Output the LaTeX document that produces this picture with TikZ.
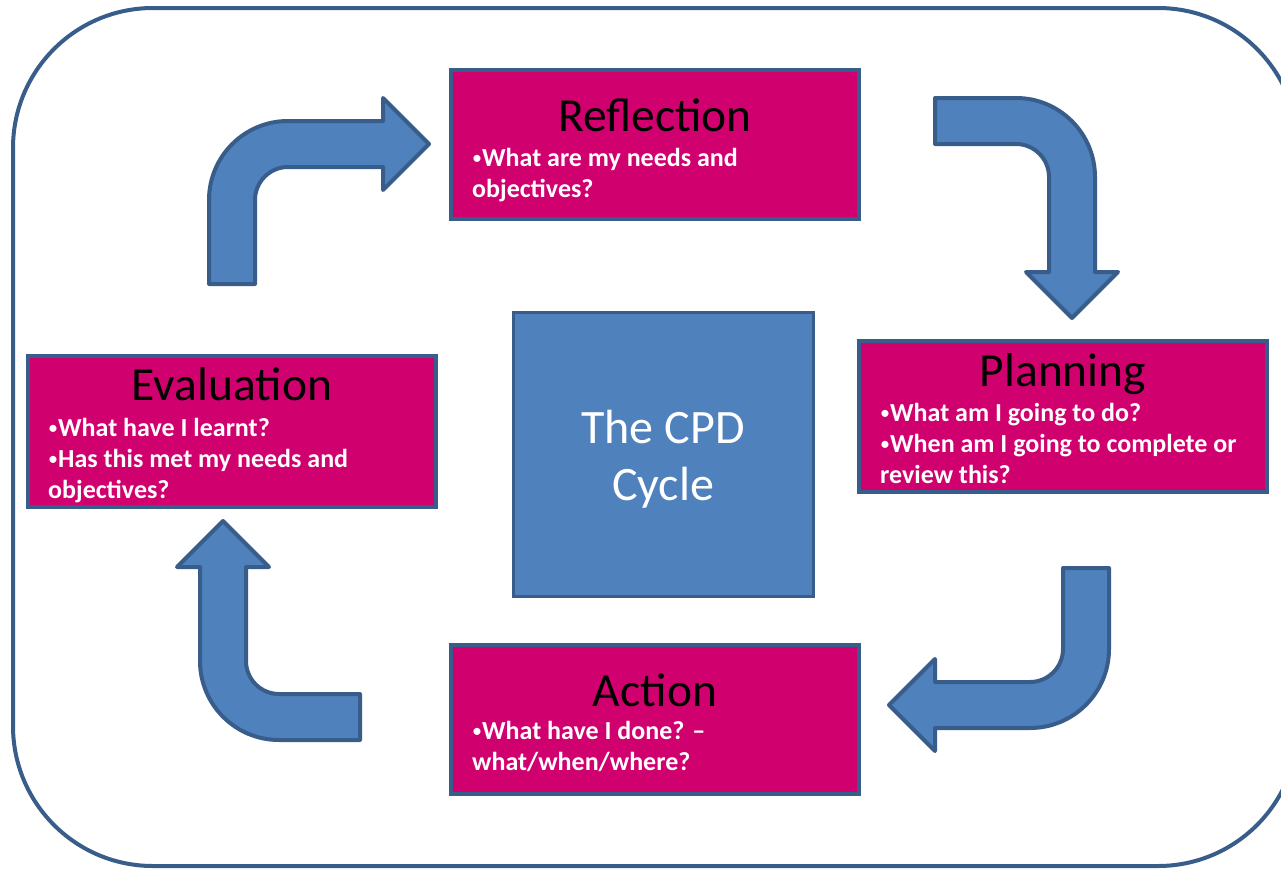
\documentclass[tikz,border=0pt]{standalone}
\usepackage{fontspec}
\setmainfont{Carlito}
\definecolor{magbox}{RGB}{208,0,111}
\definecolor{bluefill}{RGB}{79,129,189}
\definecolor{blueedge}{RGB}{56,93,138}
\newcommand\smallbul{{\normalfont\fontsize{20}{31}\selectfont\raisebox{1.5pt}{•}}}
\begin{document}
\begin{tikzpicture}[x=1pt,y=-1pt,
  stagebox/.style={draw=blueedge, fill=magbox, line width=4pt, inner sep=0pt, minimum width=408pt},
  centrebox/.style={draw=blueedge, fill=bluefill, line width=3pt, inner sep=0pt},
  blockarrow/.style={draw=blueedge, fill=bluefill, line width=4pt, line join=round},
  stagetitle/.style={font=\fontsize{47.5}{54}\selectfont, text=black, inner sep=0pt, anchor=base},
  stagetext/.style={font=\bfseries\fontsize{26}{31}\selectfont, text=white, inner sep=0pt, align=left, anchor=base west},
  frame/.style={draw=blueedge, line width=4pt, rounded corners=140pt}]
\useasboundingbox (0,0) rectangle (1281,870);
% outer frame
\draw[frame] (13,8) rectangle (1298,866);
% stage boxes
\node[stagebox, minimum height=149pt] (refl) at (655,144.5) {};
\node[stagebox, minimum height=151pt] (plan) at (1063,416.5) {};
\node[stagebox, minimum height=149pt] (act) at (655,719.5) {};
\node[stagebox, minimum height=151pt] (eval) at (232,431.5) {};
\node[centrebox, minimum width=300pt, minimum height=284pt] (cpd) at (663,454) {};
% titles
\node[stagetitle] (reflT) at (655,131) {Reflection};
\node[stagetitle] (planT) at (1063,386) {Planning};
\node[stagetitle] (actT) at (655,706) {Action};
\node[stagetitle] (evalT) at (232,400) {Evaluation};
% bullet texts (base anchor = last line's baseline)
\node[stagetext] (reflB) at (472,197) {\smallbul What are my needs and\\objectives?};
\node[stagetext] (planB) at (880,483) {\smallbul What am I going to do?\\\smallbul When am I going to complete or\\review this?};
\node[stagetext] (actB) at (472,770) {\smallbul What have I done? –\\what/when/where?};
\node[stagetext] (evalB) at (48,498) {\smallbul What have I learnt?\\\smallbul Has this met my needs and\\objectives?};
% centre text
\node[font=\fontsize{48}{57}\selectfont, text=white, align=center, inner sep=0pt, anchor=base] (cpdT) at (663,500) {The CPD\\Cycle};
% block arrows
\draw[blockarrow] (209,284) -- (209,200) arc[start angle=180, end angle=270, radius=79]
  -- (383,121) -- (383,98) -- (429,144) -- (383,190) -- (383,167) -- (288,167)
  arc[start angle=270, end angle=180, radius=33] -- (255,284) -- cycle;
\draw[blockarrow] (935,98) -- (1016,98) arc[start angle=270, end angle=360, radius=79]
  -- (1095,272) -- (1118,272) -- (1072,318) -- (1026,272) -- (1049,272) -- (1049,177)
  arc[start angle=0, end angle=-90, radius=33] -- (935,144) -- cycle;
\draw[blockarrow] (1063,568) -- (1109,568) -- (1109,649) arc[start angle=0, end angle=90, radius=79]
  -- (935,728) -- (935,751) -- (889,705) -- (935,659) -- (935,682) -- (1030,682)
  arc[start angle=90, end angle=0, radius=33] -- cycle;
\draw[blockarrow] (360,740) -- (279,740) arc[start angle=90, end angle=180, radius=79]
  -- (200,567) -- (177,567) -- (223,521) -- (269,567) -- (246,567) -- (246,661)
  arc[start angle=180, end angle=90, radius=33] -- (360,694) -- cycle;
\end{tikzpicture}
\end{document}
